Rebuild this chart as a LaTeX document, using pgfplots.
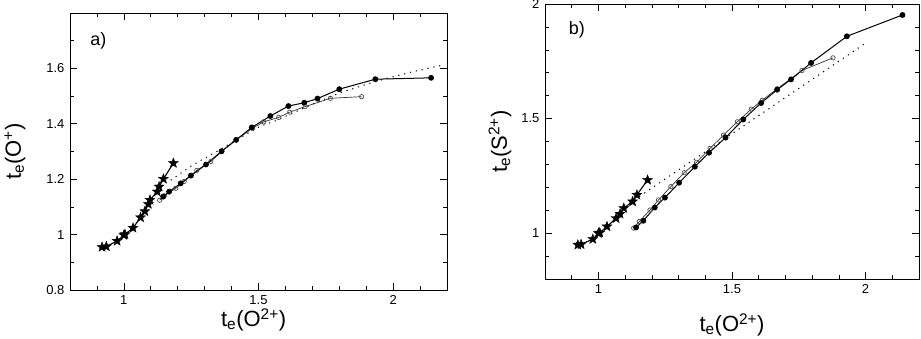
\documentclass[border=0pt]{standalone}
\usepackage{fontspec}
\setmainfont{Liberation Sans}
\usepackage{pgfplots}
\pgfplotsset{compat=1.18}

% filled five-pointed star mark
\pgfdeclareplotmark{fstar}{%
  \pgfpathmoveto{\pgfpointpolar{90}{\pgfplotmarksize}}%
  \pgfpathlineto{\pgfpointpolar{126}{0.42\pgfplotmarksize}}%
  \pgfpathlineto{\pgfpointpolar{162}{\pgfplotmarksize}}%
  \pgfpathlineto{\pgfpointpolar{198}{0.42\pgfplotmarksize}}%
  \pgfpathlineto{\pgfpointpolar{234}{\pgfplotmarksize}}%
  \pgfpathlineto{\pgfpointpolar{270}{0.42\pgfplotmarksize}}%
  \pgfpathlineto{\pgfpointpolar{306}{\pgfplotmarksize}}%
  \pgfpathlineto{\pgfpointpolar{342}{0.42\pgfplotmarksize}}%
  \pgfpathlineto{\pgfpointpolar{18}{\pgfplotmarksize}}%
  \pgfpathlineto{\pgfpointpolar{54}{0.42\pgfplotmarksize}}%
  \pgfpathclose
  \pgfusepathqfillstroke
}

\pgfplotsset{
  panel/.style={
    scale only axis,
    anchor=south west,
    xmin=0.8, xmax=2.2,
    xtick={1,1.5,2},
    minor xtick={0.9,1.1,1.2,1.3,1.4,1.6,1.7,1.8,1.9,2.1},
    tick align=inside,
    major tick length=7pt,
    minor tick length=4pt,
    every tick/.style={black, line width=0.6pt},
    axis line style={line width=0.8pt},
    /pgf/number format/assume math mode=true,
    ticklabel style={font=\fontsize{13}{15}\selectfont},
    xticklabel style={yshift=-2pt},
    yticklabel style={xshift=-2pt},
    label style={font=\fontsize{22}{26}\selectfont},
    clip=false,
  },
  fsym/.style={black, line width=1pt, mark=*, mark size=2.4pt, mark options={solid, fill=black}},
  osym/.style={black!80, line width=0.7pt, mark=o, mark size=2.2pt, mark options={solid, fill=white, draw=black!70}},
  ssym/.style={black, line width=1.1pt, mark=fstar, mark size=5.3pt, mark options={solid, fill=black, line width=0.3pt}},
  dsym/.style={black, line width=1pt, dash pattern=on 1.2pt off 4.8pt},
}

\begin{document}
\begin{tikzpicture}[x=1pt,y=1pt]
\useasboundingbox (0,0) rectangle (921,339);

% panel a
\begin{axis}[panel,
  at={(70pt,49pt)}, width=377pt, height=277pt,
  ymin=0.8, ymax=1.8,
  ytick={0.8,1,1.2,1.4,1.6},
  minor ytick={0.9,1.1,1.3,1.5,1.7},
  xlabel={t\textsubscript{e}(O\textsuperscript{2+})},
  ylabel={t\textsubscript{e}(O\textsuperscript{+})},
  xlabel style={at={(axis description cs:0.487,-0.108)}, anchor=center},
  ylabel style={at={(axis description cs:-0.146,0.5)}, anchor=center},
]
\addplot[dsym] coordinates {
  (1.174,1.196) (1.255,1.251) (1.354,1.305) (1.417,1.342) (1.504,1.390)
  (1.566,1.412) (1.690,1.466) (1.802,1.512) (1.939,1.554) (2.060,1.585) (2.175,1.610)
};
\addplot[osym] coordinates {
  (1.133,1.124) (1.150,1.140) (1.193,1.167) (1.224,1.192) (1.271,1.232)
  (1.323,1.264) (1.363,1.300) (1.417,1.342) (1.478,1.384) (1.519,1.407)
  (1.575,1.423) (1.616,1.442) (1.673,1.462) (1.767,1.492) (1.883,1.498)
};
\addplot[fsym] coordinates {
  (1.146,1.137) (1.168,1.155) (1.211,1.185) (1.249,1.213) (1.305,1.253)
  (1.363,1.301) (1.417,1.342) (1.475,1.387) (1.544,1.428) (1.611,1.464)
  (1.670,1.476) (1.719,1.491) (1.800,1.525) (1.934,1.561) (2.141,1.566)
};
\addplot[ssym] coordinates {
  (0.919,0.955) (0.935,0.957) (0.975,0.977) (1.000,0.998) (1.004,1.001)
  (1.034,1.024) (1.062,1.062) (1.078,1.084) (1.091,1.110) (1.097,1.125)
  (1.124,1.155) (1.131,1.173) (1.147,1.201) (1.184,1.258)
};
\node[font=\fontsize{18}{21}\selectfont] at (axis description cs:0.075,0.9) {a)};
\end{axis}

% panel b
\begin{axis}[panel,
  at={(545pt,60pt)}, width=374pt, height=275pt,
  ymin=0.8, ymax=2,
  ytick={1,1.5,2},
  minor ytick={0.9,1.1,1.2,1.3,1.4,1.6,1.7,1.8,1.9},
  xlabel={t\textsubscript{e}(O\textsuperscript{2+})},
  ylabel={t\textsubscript{e}(S\textsuperscript{2+})},
  xlabel style={at={(axis description cs:0.5,-0.167)}, anchor=center},
  ylabel style={at={(axis description cs:-0.120,0.5)}, anchor=center},
]
\addplot[dsym] coordinates {
  (1.097,1.116) (1.300,1.276) (1.500,1.434) (1.700,1.592) (1.996,1.826)
};
\addplot[osym] coordinates {
  (1.132,1.022) (1.153,1.051) (1.193,1.101) (1.225,1.145) (1.271,1.203)
  (1.321,1.264) (1.367,1.309) (1.418,1.370) (1.468,1.428) (1.520,1.486)
  (1.572,1.541) (1.613,1.580) (1.669,1.630) (1.762,1.710) (1.878,1.765)
};
\addplot[fsym] coordinates {
  (1.141,1.025) (1.168,1.054) (1.211,1.112) (1.249,1.155) (1.302,1.220)
  (1.361,1.290) (1.414,1.351) (1.476,1.417) (1.542,1.496) (1.609,1.568)
  (1.669,1.626) (1.721,1.671) (1.796,1.743) (1.930,1.859) (2.138,1.952)
};
\addplot[ssym] coordinates {
  (0.923,0.949) (0.935,0.951) (0.979,0.974) (1.000,1.000) (1.005,1.002)
  (1.032,1.029) (1.066,1.065) (1.081,1.084) (1.095,1.109) (1.128,1.138)
  (1.144,1.167) (1.184,1.232)
};
\node[font=\fontsize{18}{21}\selectfont] at (axis description cs:0.085,0.905) {b)};
\end{axis}
\end{tikzpicture}
\end{document}
